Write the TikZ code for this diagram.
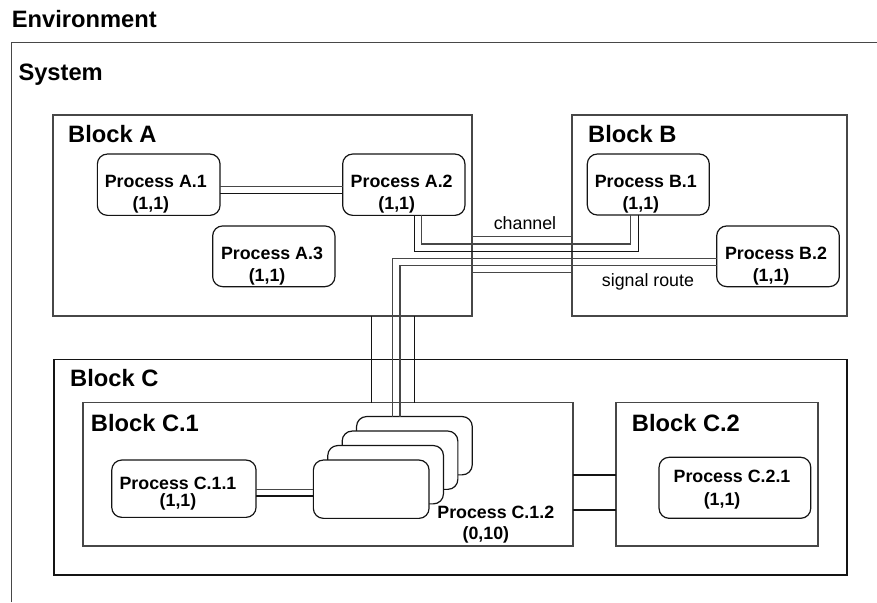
\documentclass[tikz,border=0pt]{standalone}
\usepackage{fontspec}
\setmainfont{Liberation Sans}
\newcommand\hdfont{\fontsize{23.7}{28}\selectfont\bfseries}
\newcommand\prfont{\fontsize{17.8}{21.5}\selectfont\bfseries}
\newcommand\lbfont{\fontsize{17.8}{21.5}\selectfont}
\begin{document}
\begin{tikzpicture}[x=1pt,y=-1pt,
  ln/.style={line width=1.2pt, draw=black!92},
  lng/.style={line width=1.2pt, draw=black!72},
  blk/.style={rectangle, inner sep=0pt, outer sep=0pt},
  proc/.style={ln, rectangle, rounded corners=10pt, fill=white, inner sep=0pt, outer sep=0pt},
  stackbox/.style={proc, minimum width=115.7pt, minimum height=58.3pt},
  head/.style={anchor=base west, inner sep=0pt, font=\hdfont},
  ptext/.style={align=center, inner sep=0pt, font=\prfont},
  lbl/.style={inner sep=0pt, font=\lbfont}]
\useasboundingbox (0,0) rectangle (877,602);

% environment frame and headings
\draw[lng] (11.5,602) -- (11.5,42.5) -- (877,42.5);
\node[head] (envlbl) at (11.7,27.3) {Environment};
\node[head] (syslbl) at (18.3,80) {System};

% blocks
\node[blk, lng, minimum width=419pt, minimum height=201pt] (blkA) at (262.5,215.5) {};
\node[blk, lng, minimum width=275pt, minimum height=201pt] (blkB) at (709.5,215.5) {};
\node[blk, ln, minimum width=793pt, minimum height=215.7pt] (blkC) at (450.5,467.2) {};
\node[blk, lng, minimum width=490pt, minimum height=143.3pt] (blkC1) at (328,474.35) {};
\node[blk, lng, minimum width=202pt, minimum height=143.3pt] (blkC2) at (717,474.35) {};

\node[head] (lblA) at (68,142) {Block A};
\node[head] (lblB) at (588,142) {Block B};
\node[head] (lblC) at (70,386.7) {Block C};
\node[head] (lblC1) at (90.7,431.7) {Block C.1};
\node[head] (lblC2) at (631.7,431.7) {Block C.2};

% processes
\node[proc, minimum width=122.7pt, minimum height=61.3pt] (A1) at (158.7,184.7) {};
\node[proc, minimum width=122.3pt, minimum height=61.3pt] (A2) at (403.8,184.7) {};
\node[proc, minimum width=122.3pt, minimum height=60.7pt] (A3) at (273.8,256.3) {};
\node[proc, minimum width=122pt, minimum height=61pt] (B1) at (648.3,184.5) {};
\node[proc, minimum width=122.6pt, minimum height=60.7pt] (B2) at (778,256.3) {};
\node[proc, minimum width=144.3pt, minimum height=57.3pt] (C11) at (183.9,488.7) {};
\node[proc, minimum width=151.7pt, minimum height=61pt] (C21) at (734.9,487.8) {};

% process C.1.2: a stack of instances, back to front
\node[stackbox] (C12d) at (414.4,445.7) {};
\node[stackbox] (C12c) at (400,460.2) {};
\node[stackbox] (C12b) at (385.6,474.7) {};
\node[stackbox] (C12a) at (371.2,489.2) {};

% channels between blocks
\draw[lng] (blkA.east |- 0,236.7) -- (blkB.west |- 0,236.7);
\draw[lng] (blkA.east |- 0,272.7) -- (blkB.west |- 0,272.7);
\draw[ln] (blkA.south -| 371.3,0) -- (blkC1.north -| 371.3,0);
\draw[ln] (blkA.south -| 414.3,0) -- (blkC1.north -| 414.3,0);
\draw[ln] (blkC1.east |- 0,475) -- (blkC2.west |- 0,475);
\draw[ln] (blkC1.east |- 0,510) -- (blkC2.west |- 0,510);

% signal routes (double lines)
\draw[lng] (A1.east |- 0,186.7) -- (A2.west |- 0,186.7);
\draw[ln] (A1.east |- 0,193.3) -- (A2.west |- 0,193.3);
\draw[lng] (A2.south -| 421.7,0) |- (630.7,244) -- (B1.south -| 630.7,0);
\draw[ln] (A2.south -| 414.3,0) |- (638.3,251.3) -- (B1.south -| 638.3,0);
\draw[lng] (C12d.north -| 392.7,0) |- (B2.west |- 0,258.7);
\draw[lng] (C12d.north -| 400,0) |- (B2.west |- 0,265.7);
\draw[lng] (C11.east |- 0,489.5) -- (C12a.west |- 0,489.5);
\draw[ln] (C11.east |- 0,496) -- (C12a.west |- 0,496);

% process texts
\node[ptext] (tA1) at (155.8,194) {Process A.1\\(1,1)\hphantom{0}};
\node[ptext] (tA2) at (401.7,194) {Process A.2\\(1,1)\hphantom{0}};
\node[ptext] (tA3) at (272,266) {Process A.3\\(1,1)\hphantom{0}};
\node[ptext] (tB1) at (645.8,194) {Process B.1\\(1,1)\hphantom{0}};
\node[ptext] (tB2) at (776,266) {Process B.2\\(1,1)\hphantom{0}};
\node[ptext] (tC11) at (178,494) {Process C.1.1\\[-4.5pt](1,1)};
\node[ptext] (tC21) at (732,489.7) {Process C.2.1\\[1.5pt](1,1)\hphantom{00}};
\node[ptext] (tC12) at (495.8,525) {Process C.1.2\\[-0.5pt](0,10)\hphantom{00}};

% route labels
\node[lbl] (chlbl) at (525,223.3) {channel};
\node[lbl] (srlbl) at (648,281.7) {signal route};
\end{tikzpicture}
\end{document}
